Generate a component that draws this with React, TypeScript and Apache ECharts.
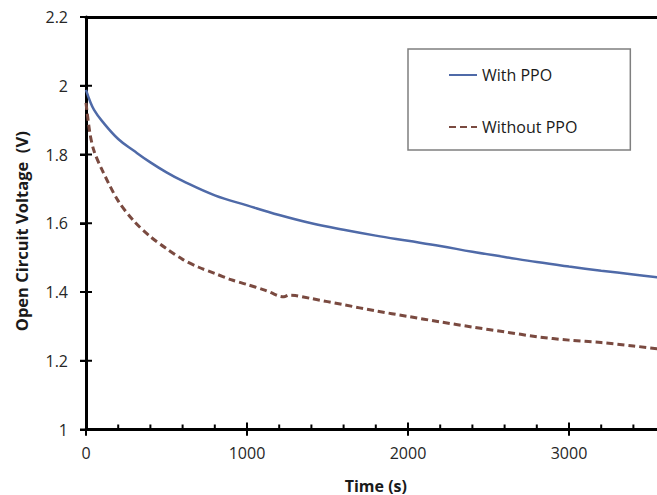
import React, { useEffect, useRef } from "react";
import * as echarts from "echarts";

const timeWith = [0, 25, 50, 100, 200, 300, 400, 500, 600, 800, 1000, 1200, 1400, 1600, 1800, 2000, 2200, 2400, 2600, 2800, 3000, 3200, 3400, 3600];
const voltageWith = [1.988, 1.955, 1.93, 1.897, 1.845, 1.81, 1.777, 1.748, 1.723, 1.681, 1.652, 1.624, 1.6, 1.581, 1.564, 1.549, 1.534, 1.517, 1.502, 1.487, 1.474, 1.462, 1.451, 1.44];

const timeWithout = [0, 25, 50, 100, 200, 300, 400, 500, 600, 700, 800, 900, 1000, 1100, 1150, 1200, 1230, 1260, 1300, 1400, 1600, 1800, 2000, 2200, 2400, 2600, 2800, 3000, 3200, 3400, 3600];
const voltageWithout = [1.95, 1.86, 1.81, 1.755, 1.665, 1.605, 1.561, 1.526, 1.495, 1.472, 1.454, 1.436, 1.422, 1.407, 1.398, 1.388, 1.386, 1.391, 1.39, 1.381, 1.363, 1.345, 1.329, 1.313, 1.298, 1.284, 1.27, 1.26, 1.253, 1.243, 1.232];

const xMajorTicks = [0, 1000, 2000, 3000];
const xMinorTicks = [200, 400, 600, 800, 1200, 1400, 1600, 1800, 2200, 2400, 2600, 2800, 3200, 3400];
const yTicks = [1, 1.2, 1.4, 1.6, 1.8, 2, 2.2];

const seriesNames = ["With PPO", "Without PPO"];
const xTitle = "Time (s)";
const yTitle = "Open Circuit Voltage  (V)";

const FONT = "'Open Sans', sans-serif";
const X_MIN = 0;
const X_MAX = 3600;
const Y_MIN = 1;
const Y_MAX = 2.2;

export default function App() {
  const ref = useRef<HTMLDivElement>(null);
  useEffect(() => {
    if (!ref.current) return;
    const chart = echarts.init(ref.current, undefined, { renderer: "svg" });
    const tickStyle = { stroke: "#000", lineWidth: 2 };
    chart.setOption({
      animation: false,
      backgroundColor: "#ffffff",
      grid: { left: 86, top: 17, right: 14.4, bottom: 65.5, containLabel: false, outerBoundsMode: "none" },
      legend: {
        data: seriesNames,
        orient: "vertical",
        left: 408,
        top: 49,
        itemWidth: 28,
        itemHeight: 14,
        itemGap: 34,
        padding: [17, 53, 14, 40],
        borderColor: "#7f7f7f",
        borderWidth: 1.5,
        itemStyle: { opacity: 0 },
        textStyle: { fontFamily: FONT, fontSize: 16, lineHeight: 18, color: "#1a1a1a" },
      },
      xAxis: [
        {
          type: "value",
          min: X_MIN,
          max: X_MAX,
          interval: 1000,
          position: "bottom",
          splitLine: { show: false },
          axisLine: { show: true, onZero: false, lineStyle: { color: "#000", width: 3 } },
          axisTick: { show: true, inside: false, length: 6, lineStyle: { color: "#000", width: 2 } },
          axisLabel: {
            margin: 15,
            fontFamily: FONT,
            fontSize: 16,
            color: "#262626",
            showMaxLabel: false,
            formatter: (v: number) => String(v),
          },
          name: xTitle,
          nameLocation: "middle",
          nameGap: 48,
          nameTextStyle: { fontFamily: FONT, fontSize: 16, fontWeight: "bold", color: "#1a1a1a" },
        },
        {
          type: "value",
          min: X_MIN,
          max: X_MAX,
          interval: 1000,
          position: "top",
          splitLine: { show: false },
          axisLine: { show: true, onZero: false, lineStyle: { color: "#000", width: 3 } },
          axisTick: { show: false },
          axisLabel: { show: false },
        },
      ],
      yAxis: [
        {
          type: "value",
          min: Y_MIN,
          max: Y_MAX,
          interval: 0.2,
          position: "left",
          splitLine: { show: false },
          axisLine: { show: true, onZero: false, lineStyle: { color: "#000", width: 3 } },
          axisTick: { show: true, inside: false, length: 6, lineStyle: { color: "#000", width: 2 } },
          axisLabel: {
            margin: 18,
            fontFamily: FONT,
            fontSize: 16,
            color: "#262626",
            formatter: (v: number) => String(Math.round(v * 10) / 10),
          },
          name: yTitle,
          nameLocation: "middle",
          nameGap: 56,
          nameTextStyle: { fontFamily: FONT, fontSize: 16.5, fontWeight: "bold", color: "#1a1a1a", padding: [0, 16, 0, 0] },
        },
      ],
      series: [
        {
          name: seriesNames[0],
          type: "line",
          symbol: "none",
          smooth: 0.4,
          data: timeWith.map((t, i) => [t, voltageWith[i]]),
          lineStyle: { color: "#4f6aa8", width: 2.5 },
          itemStyle: { color: "#4f6aa8" },
          z: 3,
        },
        {
          name: seriesNames[1],
          type: "line",
          symbol: "none",
          smooth: 0.3,
          data: timeWithout.map((t, i) => [t, voltageWithout[i]]),
          lineStyle: { color: "#7a4a40", width: 3, type: [7, 4] },
          itemStyle: { color: "#7a4a40" },
          z: 3,
        },
        {
          name: "xMajorTicks",
          type: "custom",
          clip: false,
          silent: true,
          z: 5,
          data: xMajorTicks.map((v) => [v, Y_MIN]),
          renderItem: (_params: any, api: any) => {
            const p = api.coord([api.value(0), api.value(1)]);
            return { type: "line", shape: { x1: p[0], y1: p[1] - 7, x2: p[0], y2: p[1] + 6 }, style: tickStyle };
          },
        },
        {
          name: "xMinorTicks",
          type: "custom",
          clip: false,
          silent: true,
          z: 5,
          data: xMinorTicks.map((v) => [v, Y_MIN]),
          renderItem: (_params: any, api: any) => {
            const p = api.coord([api.value(0), api.value(1)]);
            return { type: "line", shape: { x1: p[0], y1: p[1] - 5, x2: p[0], y2: p[1] }, style: tickStyle };
          },
        },
        {
          name: "yTicks",
          type: "custom",
          clip: false,
          silent: true,
          z: 5,
          data: yTicks.map((v) => [X_MIN, v]),
          renderItem: (_params: any, api: any) => {
            const p = api.coord([api.value(0), api.value(1)]);
            return { type: "line", shape: { x1: p[0] - 6, y1: p[1], x2: p[0] + 6, y2: p[1] }, style: tickStyle };
          },
        },
      ],
    });
    return () => chart.dispose();
  }, []);
  return (
    <div style={{ position: "fixed", left: 0, top: 0, width: 657, height: 495, overflow: "hidden", background: "#fff" }}>
      <div ref={ref} style={{ width: 680, height: 495 }} />
    </div>
  );
}
